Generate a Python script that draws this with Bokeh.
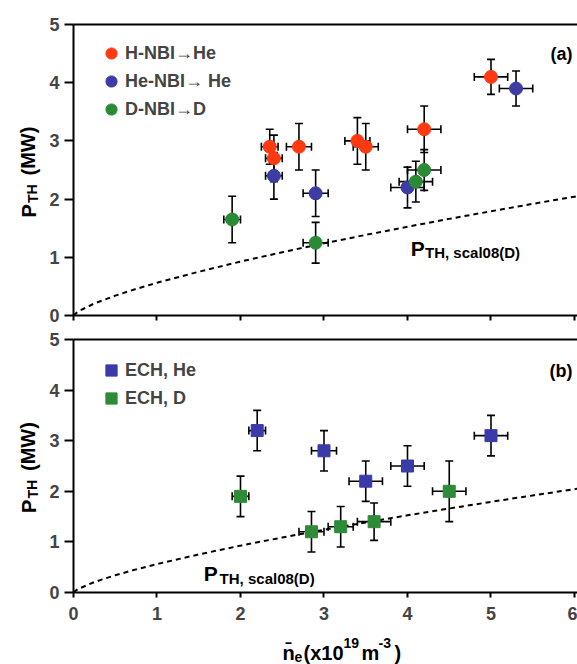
from bokeh.plotting import figure
from bokeh.layouts import column, row
from bokeh.models import (Range1d, LinearAxis, FixedTicker, Whisker, ColumnDataSource,
                          TeeHead, Label, Legend, LegendItem)
from bokeh.embed import file_html
from bokeh.resources import INLINE

FONT = "Liberation Sans"

# ---------------- data ----------------
x_ticks = [0, 1, 2, 3, 4, 5, 6]
y_ticks = [0, 1, 2, 3, 4, 5]

# panel (a): NBI
h_nbi_x = [2.35, 2.4, 2.7, 3.4, 3.5, 4.2, 5.0]
h_nbi_y = [2.9, 2.7, 2.9, 3.0, 2.9, 3.2, 4.1]
h_nbi_xerr = [0.1, 0.1, 0.15, 0.15, 0.15, 0.2, 0.2]
h_nbi_yerr = [0.3, 0.4, 0.4, 0.4, 0.4, 0.4, 0.3]

he_nbi_x = [2.4, 2.9, 4.0, 5.3]
he_nbi_y = [2.4, 2.1, 2.2, 3.9]
he_nbi_xerr = [0.1, 0.15, 0.2, 0.2]
he_nbi_yerr = [0.4, 0.4, 0.35, 0.3]

d_nbi_x = [1.9, 2.9, 4.1, 4.2]
d_nbi_y = [1.65, 1.25, 2.3, 2.5]
d_nbi_xerr = [0.1, 0.15, 0.2, 0.2]
d_nbi_yerr = [0.4, 0.35, 0.35, 0.35]

# panel (b): ECH
ech_he_x = [2.2, 3.0, 3.5, 4.0, 5.0]
ech_he_y = [3.2, 2.8, 2.2, 2.5, 3.1]
ech_he_xerr = [0.1, 0.15, 0.2, 0.2, 0.2]
ech_he_yerr = [0.4, 0.4, 0.4, 0.4, 0.4]

ech_d_x = [2.0, 2.85, 3.2, 3.6, 4.5]
ech_d_y = [1.9, 1.2, 1.3, 1.4, 2.0]
ech_d_xerr = [0.1, 0.15, 0.15, 0.2, 0.2]
ech_d_yerr = [0.4, 0.4, 0.4, 0.37, 0.6]

# P_TH scal08(D) curve
curve_x = [0, 0.05, 0.25, 0.5, 0.75, 1, 1.5, 2, 2.5, 3, 3.5, 4, 4.5, 5, 5.5, 6, 6.04]
curve_y = [0, 0.065, 0.207, 0.341, 0.457, 0.562, 0.752, 0.926, 1.087, 1.240,
           1.385, 1.525, 1.660, 1.791, 1.918, 2.042, 2.052]

labels_a = ["H-NBI\u2192He", "He-NBI\u2192 He", "D-NBI\u2192D"]
labels_b = ["ECH, He", "ECH, D"]

RED = "#ff3a10"
BLUE = "#3c3ca2"
GREEN = "#2a8a35"
BLUE_SQ = "#3a3aa8"
GREEN_SQ = "#2e8b37"

W_LEFT = 46             # page x 0 .. 46
W_MAIN = 577 - W_LEFT   # page x 46 .. 577


def make_fig(height, top, bottom, show_xlabels):
    p = figure(width=W_MAIN, height=height, x_range=Range1d(0, 6.036), y_range=Range1d(0, 5),
               output_backend="svg", toolbar_location=None, title=None,
               min_border_left=27, min_border_right=0,
               min_border_top=top, min_border_bottom=bottom)
    p.grid.grid_line_color = None
    p.outline_line_color = None
    for ax in p.xaxis:
        ax.axis_line_width = 2
        if show_xlabels:
            ax.ticker = FixedTicker(ticks=x_ticks)
            ax.major_tick_line_width = 2
            ax.major_tick_out = 5
            ax.major_tick_in = 0
            ax.minor_tick_line_color = None
            ax.major_label_text_font = FONT
            ax.major_label_text_font_style = "bold"
            ax.major_label_text_font_size = "18px"
            ax.major_label_standoff = 9
        else:
            # tick marks only, no tick labels (drawn as unlabeled minor ticks)
            ax.ticker = FixedTicker(ticks=[], minor_ticks=x_ticks)
            ax.minor_tick_line_color = "black"
            ax.minor_tick_line_width = 2
            ax.minor_tick_out = 5
            ax.minor_tick_in = 0
    for ax in p.yaxis:
        ax.ticker = FixedTicker(ticks=y_ticks)
        ax.axis_line_width = 2
        ax.major_tick_line_width = 2
        ax.major_tick_out = 9
        ax.major_tick_in = 0
        ax.minor_tick_line_color = None
        ax.major_label_text_font = FONT
        ax.major_label_text_font_style = "bold"
        ax.major_label_text_font_size = "18px"
        ax.major_label_standoff = 5
    topax = LinearAxis(ticker=FixedTicker(ticks=[]), axis_line_width=2,
                       major_tick_line_color=None, minor_tick_line_color=None)
    p.add_layout(topax, "above")
    p.line(curve_x, curve_y, line_color="black", line_width=2, line_dash="5 4")
    return p


def text_fig(width, height):
    # a blank figure that only carries axis-title texts
    f = figure(width=width, height=height, x_range=Range1d(0, width), y_range=Range1d(0, height),
               output_backend="svg", toolbar_location=None, title=None,
               x_axis_location=None, y_axis_location=None,
               min_border_left=0, min_border_right=0, min_border_top=0, min_border_bottom=0)
    f.grid.grid_line_color = None
    f.outline_line_color = None
    return f


def add_series(p, xs, ys, xerr, yerr, color, marker, size):
    src = ColumnDataSource(dict(
        x=xs, y=ys,
        ylo=[v - e for v, e in zip(ys, yerr)], yhi=[v + e for v, e in zip(ys, yerr)],
        xlo=[v - e for v, e in zip(xs, xerr)], xhi=[v + e for v, e in zip(xs, xerr)],
    ))
    for base, lo, hi, dim in (("x", "ylo", "yhi", "height"), ("y", "xlo", "xhi", "width")):
        p.add_layout(Whisker(base=base, lower=lo, upper=hi, dimension=dim, source=src,
                             line_color="black", line_width=1.6, level="underlay",
                             upper_head=TeeHead(size=8, line_width=1.6, line_color="black"),
                             lower_head=TeeHead(size=8, line_width=1.6, line_color="black")))
    return p.scatter("x", "y", source=src, marker=marker, size=size,
                     fill_color=color, line_color=color, line_width=1)


def make_legend(items, loc):
    return Legend(items=items, location=loc, border_line_color=None,
                  background_fill_alpha=0, padding=0, margin=0, spacing=0,
                  glyph_width=28, glyph_height=28, label_height=28, label_standoff=0,
                  label_text_font=FONT, label_text_font_style="bold",
                  label_text_font_size="18px", label_text_baseline="middle")


def lab(p, text, x, y, size, units="data", angle=0, align="left"):
    p.add_layout(Label(x=x, y=y, x_units=units, y_units=units, text=text, angle=angle,
                       text_font=FONT, text_font_style="bold", text_font_size=size,
                       text_align=align, text_baseline="alphabetic", text_color="black"))


# ---------------- panel (a) ----------------
p1 = make_fig(330, 24, 15, False)
r_h = add_series(p1, h_nbi_x, h_nbi_y, h_nbi_xerr, h_nbi_yerr, RED, "circle", 13)
r_he = add_series(p1, he_nbi_x, he_nbi_y, he_nbi_xerr, he_nbi_yerr, BLUE, "circle", 13)
r_d = add_series(p1, d_nbi_x, d_nbi_y, d_nbi_xerr, d_nbi_yerr, GREEN, "circle", 13)
p1.add_layout(make_legend([LegendItem(label=labels_a[0], renderers=[r_h]),
                           LegendItem(label=labels_a[1], renderers=[r_he]),
                           LegendItem(label=labels_a[2], renderers=[r_d])], (24, 192)))
lab(p1, "(a)", 499, 262, "18px", units="screen", align="right")
lab(p1, "P", 4.04, 1.15, "21px")
lab(p1, "TH, scal08(D)", 4.21, 1.08, "15px")

# ---------------- panel (b) ----------------
p2 = make_fig(296, 9, 34, True)
r_eh = add_series(p2, ech_he_x, ech_he_y, ech_he_xerr, ech_he_yerr, BLUE_SQ, "square", 12)
r_ed = add_series(p2, ech_d_x, ech_d_y, ech_d_xerr, ech_d_yerr, GREEN_SQ, "square", 12)
p2.add_layout(make_legend([LegendItem(label=labels_b[0], renderers=[r_eh]),
                           LegendItem(label=labels_b[1], renderers=[r_ed])], (24, 180)))
lab(p2, "(b)", 499, 222, "18px", units="screen", align="right")
lab(p2, "P", 1.56, 0.37, "21px")
lab(p2, "TH, scal08(D)", 1.75, 0.27, "15px")

# ---------------- y-axis titles (left strip, page x 0..46) ----------------
yt = text_fig(W_LEFT, 664)
ROT = 1.5708
lab(yt, "P", 28, 447, "20px", angle=ROT)
lab(yt, "TH", 32, 461.5, "14px", angle=ROT)
lab(yt, "(MW)", 28, 489, "20px", angle=ROT)
lab(yt, "P", 28, 151.5, "20px", angle=ROT)
lab(yt, "TH", 32, 166, "14px", angle=ROT)
lab(yt, "(MW)", 28, 193.5, "20px", angle=ROT)

# ---------------- x-axis title (bottom strip, page y 626..664) ----------------
xt = text_fig(W_MAIN, 38)
X0 = W_LEFT
lab(xt, "n\u0304", 255 - X0, 12, "20px", units="screen")
lab(xt, "e", 267 - X0, 8, "14px", units="screen")
lab(xt, "(x10", 276 - X0, 12, "20px", units="screen")
lab(xt, "19", 316 - X0, 22, "14px", units="screen")
lab(xt, "m", 334 - X0, 12, "20px", units="screen")
lab(xt, "-3", 351 - X0, 22, "14px", units="screen")
lab(xt, ")", 367 - X0, 12, "20px", units="screen")

layout = row(yt, column(p1, p2, xt, spacing=0), spacing=0)
open("out.html", "w").write(file_html(layout, INLINE))
